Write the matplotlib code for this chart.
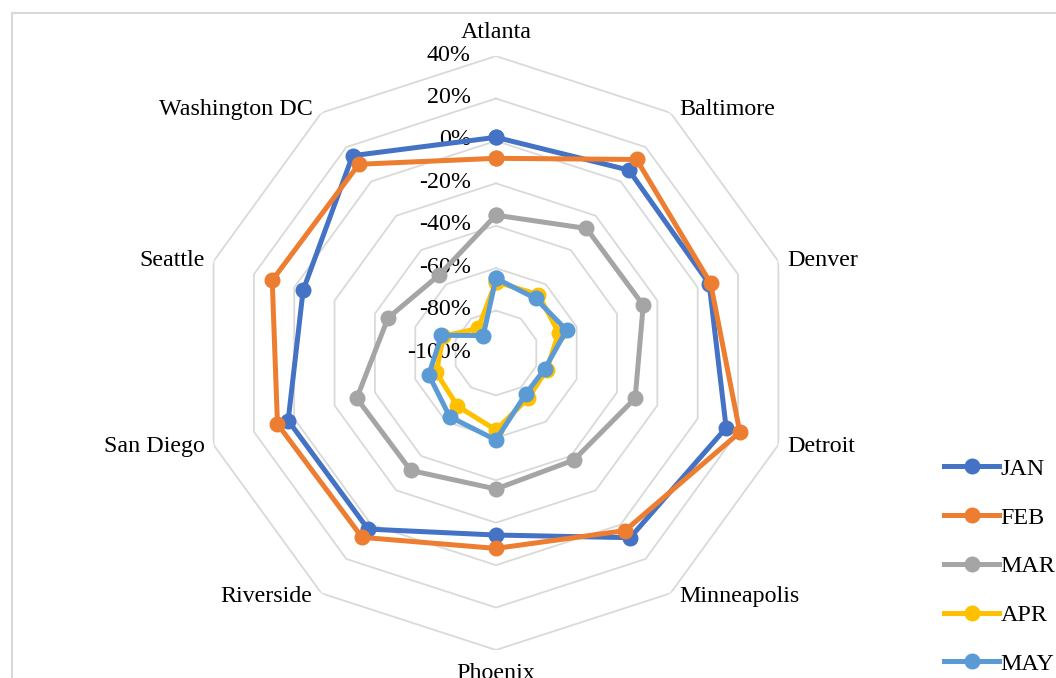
import numpy as np
import matplotlib as mpl
mpl.use('Agg')
import matplotlib.pyplot as plt
import matplotlib.transforms as mtrans
from matplotlib.patches import Rectangle

# data (% change)
cities = ['Atlanta', 'Baltimore', 'Denver', 'Detroit', 'Minneapolis', 'Phoenix',
          'Riverside', 'San Diego', 'Seattle', 'Washington DC']
jan = [1.7, 6.6, 5.7, 14.1, 7.6, -14.2, 2.6, 3.0, -4.4, 15.0]
feb = [-8.2, 12.8, 6.4, 20.9, 3.5, -7.9, 7.4, 8.3, 10.9, 10.0]
mar = [-35.0, -27.4, -27.0, -31.0, -37.6, -35.9, -31.6, -31.0, -46.5, -54.5]
apr = [-66.4, -66.0, -68.9, -74.8, -73.9, -63.7, -69.1, -70.4, -74.0, -85.7]
may = [-64.8, -68.2, -65.0, -75.8, -76.1, -59.0, -62.9, -66.7, -73.0, -89.8]
months = ['JAN', 'FEB', 'MAR', 'APR', 'MAY']
colors = ['#4472C4', '#ED7D31', '#A5A5A5', '#FFC000', '#5B9BD5']
ticks = [-100, -80, -60, -40, -20, 0, 20, 40]

plt.rcParams['font.family'] = ['Liberation Serif', 'DejaVu Serif']

fig = plt.figure(figsize=(10.56, 6.78), dpi=100)
# chart area border (runs off the right and bottom edges)
fig.patches.append(Rectangle((0.0114, -0.5), 1.5, 1.4808, transform=fig.transFigure,
                             fill=False, edgecolor='#D9D9D9', linewidth=1.5))

ax = fig.add_axes([0.1884, 0.0413, 0.5625, 0.876], projection='polar')
ax.set_theta_offset(np.pi / 2)
ax.set_theta_direction(-1)
ax.set_ylim(-100, 40)
ax.grid(False)
ax.spines['polar'].set_visible(False)
ax.set_xticks([])
ax.set_yticks([])
ax.patch.set_alpha(0)

n = len(cities)
theta = np.arange(n) * 2 * np.pi / n
theta_c = np.append(theta, theta[0])

# decagon grid
for t in ticks[1:]:
    ax.plot(theta_c, [t] * (n + 1), color='#D9D9D9', lw=1.3, zorder=1)

for name, vals, c in zip(months, [jan, feb, mar, apr, may], colors):
    v = np.append(vals, vals[0])
    ax.plot(theta_c, v, color=c, lw=3.6, marker='o', markersize=10.5, label=name, zorder=3)

# radial tick labels to the left of the vertical axis
off = mtrans.offset_copy(ax.transData, fig=fig, x=-25, y=1, units='dots')
for t in ticks:
    ax.text(0, t, f'{t}%', transform=off, ha='right', va='center', fontsize=17.3, zorder=2)

# category labels
for ang, name in zip(theta, cities):
    s, c = np.sin(ang), np.cos(ang)
    if abs(s) < 0.01:
        ha = 'center'
        dx, dy = 0, 24 * np.sign(c)
    else:
        ha = 'left' if s > 0 else 'right'
        dx, dy = 9 * np.sign(s), 4 * c
    tr = mtrans.offset_copy(ax.transData, fig=fig, x=dx, y=dy, units='dots')
    ax.text(ang, 40, name, transform=tr, ha=ha, va='center', fontsize=17.3)

fig.legend(loc='upper left', bbox_to_anchor=(0.894, 0.3245), frameon=False,
           fontsize=17.3, handlelength=2.3, handletextpad=0.05, labelspacing=1.12,
           borderaxespad=0, borderpad=0)

plt.savefig('out.png', dpi=100)
